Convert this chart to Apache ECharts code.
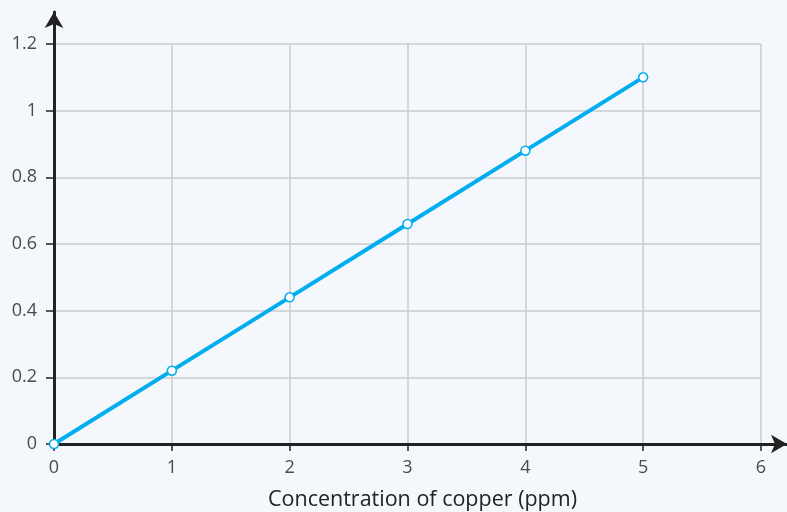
<!DOCTYPE html>
<html>
<head>
<meta charset="utf-8">
<script src="https://cdn.jsdelivr.net/npm/echarts@6/dist/echarts.min.js"></script>
<style>
  html, body { margin: 0; padding: 0; background: #f4f7fb; }
  #chart { width: 787px; height: 512px; }
</style>
</head>
<body>
<div id="chart"></div>
<script>
// copper concentration vs reading
var concentration = [0, 1, 2, 3, 4, 5];
var reading = [0, 0.22, 0.44, 0.66, 0.88, 1.1];

var xTitle = 'Concentration of copper (ppm)';

var myChart = echarts.init(document.getElementById('chart'));

var points = concentration.map(function (c, i) { return [c, reading[i]]; });

var option = {
  backgroundColor: '#f4f7fb',
  textStyle: { fontFamily: 'Open Sans' },
  grid: [
    // the plot
    { left: 54, right: 26, top: 44, bottom: 68, outerBoundsMode: 'none', containLabel: false },
    // only for the long axis lines with arrows
    { left: 54, right: 0, top: 12, bottom: 68, outerBoundsMode: 'none', containLabel: false }
  ],
  xAxis: [
    {
      type: 'value', gridIndex: 0, min: 0, max: 6, interval: 1,
      name: xTitle, nameLocation: 'middle', nameGap: 45,
      nameTextStyle: { fontSize: 21.5, color: '#222', padding: [0, 0, 0, 30] },
      axisLine: { show: false },
      axisTick: { show: true, length: 7, lineStyle: { color: '#222', width: 1.5 } },
      axisLabel: { fontSize: 18, color: '#4a4a4a', margin: 15 },
      splitLine: { show: true, lineStyle: { color: '#c8cccf', width: 1.5 } }
    },
    {
      type: 'value', gridIndex: 1, min: 0, max: 1,
      axisLine: { show: true, symbol: ['none', 'arrow'], symbolSize: [14, 16], symbolOffset: [0, 0],
        lineStyle: { color: '#222', width: 3 } },
      axisTick: { show: false }, axisLabel: { show: false }, splitLine: { show: false }
    }
  ],
  yAxis: [
    {
      type: 'value', gridIndex: 0, min: 0, max: 1.2, interval: 0.2,
      axisLine: { show: false },
      axisTick: { show: true, length: 8, lineStyle: { color: '#222', width: 1.5 } },
      axisLabel: { fontSize: 18, color: '#4a4a4a', margin: 17 },
      splitLine: { show: true, lineStyle: { color: '#c8cccf', width: 1.5 } }
    },
    {
      type: 'value', gridIndex: 1, min: 0, max: 1,
      axisLine: { show: true, symbol: ['none', 'arrow'], symbolSize: [14, 16], symbolOffset: [0, 0],
        lineStyle: { color: '#222', width: 3 } },
      axisTick: { show: false }, axisLabel: { show: false }, splitLine: { show: false }
    }
  ],
  series: [
    {
      type: 'line',
      xAxisIndex: 0, yAxisIndex: 0,
      data: points,
      symbol: 'circle', symbolSize: 9,
      lineStyle: { color: '#00aeef', width: 4 },
      itemStyle: { color: '#ffffff', borderColor: '#00aeef', borderWidth: 1.5 },
      z: 5
    }
  ]
};
myChart.setOption(option);
</script>
</body>
</html>
